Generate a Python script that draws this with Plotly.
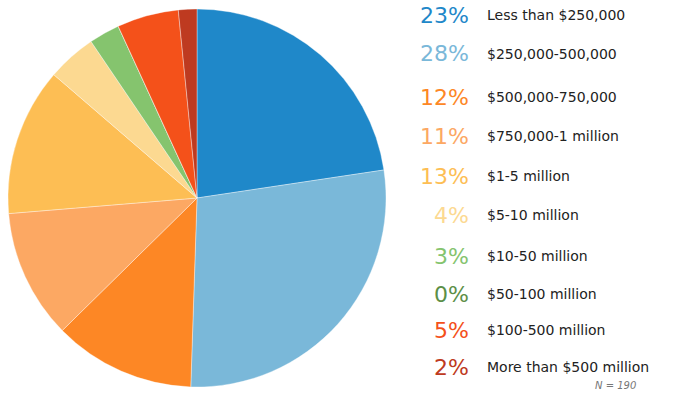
import plotly.graph_objects as go

categories = ["Less than $250,000", "$250,000-500,000", "$500,000-750,000",
              "$750,000-1 million", "$1-5 million", "$5-10 million",
              "$10-50 million", "$50-100 million", "$100-500 million",
              "More than $500 million"]
counts = [43, 53, 23, 21, 24, 8, 5, 0, 10, 3]
colors = ["#1f88c9", "#7ab8d9", "#fd8725", "#fca863", "#fdbe54", "#fcd991",
          "#85c46e", "#5c8f47", "#f4511a", "#be3a20"]
row_y_px = [15, 54, 97, 136, 176, 215, 256, 294, 330, 367]

W, H = 675, 407
total = sum(counts)
pcts = [round(c / total * 100) for c in counts]


def px(x):
    return x / W


def py(y):
    return 1 - y / H


fig = go.Figure(go.Pie(
    labels=categories, values=counts, sort=False, direction="clockwise",
    rotation=0, textinfo="none", hoverinfo="label+percent",
    marker=dict(colors=colors, line=dict(color="rgba(255,255,255,0.6)", width=0.6)),
    domain=dict(x=[px(8), px(386)], y=[py(387), py(9)]),
    showlegend=False,
))

ann = []
for cat, p, col, yp in zip(categories, pcts, colors, row_y_px):
    ann.append(dict(x=px(471), y=py(yp), xref="paper", yref="paper",
                    xanchor="right", yanchor="middle", showarrow=False,
                    text=f"{p}%", font=dict(family="DejaVu Sans", size=22, color=col)))
    ann.append(dict(x=px(485), y=py(yp), xref="paper", yref="paper",
                    xanchor="left", yanchor="middle", showarrow=False,
                    text=cat, font=dict(family="DejaVu Sans", size=14, color="#222222")))
ann.append(dict(x=px(638), y=py(385), xref="paper", yref="paper",
                xanchor="right", yanchor="middle", showarrow=False,
                text=f"<i>N = {total}</i>",
                font=dict(family="DejaVu Sans", size=10, color="#777777")))

fig.update_layout(width=W, height=H, margin=dict(l=0, r=0, t=0, b=0),
                  paper_bgcolor="white", plot_bgcolor="white", annotations=ann)
fig.write_html("out.html", config={"displayModeBar": False},
               post_script="document.body.style.margin='0px';document.body.style.padding='0px';")
